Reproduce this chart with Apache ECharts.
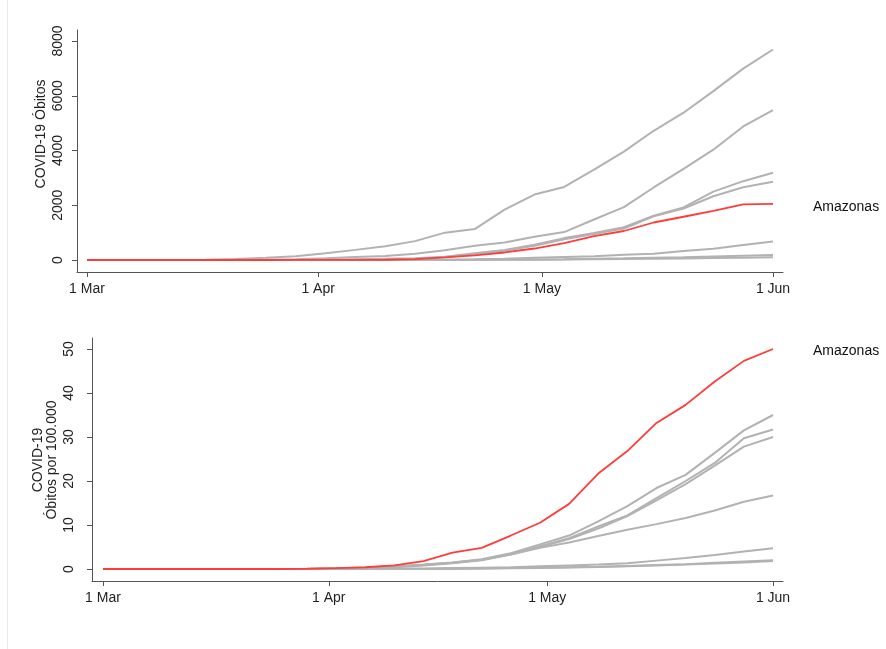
<!DOCTYPE html>
<html>
<head>
<meta charset="utf-8">
<script src="https://cdn.jsdelivr.net/npm/echarts@6/dist/echarts.min.js"></script>
<style>
  html, body { margin: 0; background: #fff; }
  #main { width: 886px; height: 649px; }
</style>
</head>
<body>
<div id="main"></div>
<script>
// datas (2020)
var dates = ['2020-03-01', '2020-03-10', '2020-03-17', '2020-03-21', '2020-03-25', '2020-03-29',
  '2020-04-02', '2020-04-06', '2020-04-10', '2020-04-14', '2020-04-18', '2020-04-22', '2020-04-26',
  '2020-04-30', '2020-05-04', '2020-05-08', '2020-05-12', '2020-05-16', '2020-05-20', '2020-05-24',
  '2020-05-28', '2020-06-01'];
var months = ['Jan', 'Feb', 'Mar', 'Apr', 'May', 'Jun', 'Jul', 'Aug', 'Sep', 'Oct', 'Nov', 'Dec'];

// óbitos acumulados (painel de cima)
var obitosA = [0, 0, 5, 40, 80, 140, 250, 370, 500, 690, 1000, 1130, 1840, 2390, 2670, 3300, 3960, 4720, 5380, 6170, 6990, 7690];
var obitosB = [0, 0, 0, 5, 15, 30, 60, 110, 150, 225, 360, 520, 640, 850, 1020, 1480, 1930, 2650, 3330, 4030, 4880, 5475];
var obitosC = [0, 0, 0, 0, 2, 5, 15, 30, 45, 60, 120, 250, 370, 560, 800, 990, 1200, 1620, 1920, 2500, 2880, 3190];
var obitosD = [0, 0, 0, 0, 0, 1, 3, 10, 20, 40, 100, 220, 340, 520, 760, 950, 1150, 1600, 1880, 2330, 2660, 2860];
var obitosE = [0, 0, 0, 0, 0, 0, 1, 2, 4, 6, 10, 25, 50, 80, 110, 140, 190, 230, 330, 410, 550, 680];
var obitosF = [0, 0, 0, 0, 0, 0, 0, 1, 2, 3, 5, 10, 15, 20, 30, 45, 60, 80, 100, 130, 160, 185];
var obitosG = [0, 0, 0, 0, 0, 0, 0, 0, 1, 2, 3, 5, 8, 10, 15, 25, 35, 45, 55, 70, 85, 105];
var obitosAM = [0, 0, 0, 0, 1, 3, 5, 8, 10, 30, 95, 170, 275, 420, 620, 870, 1060, 1370, 1580, 1795, 2030, 2050];

// óbitos por 100.000 (painel de baixo)
var taxaA = [0, 0, 0, 0, 0, 0, 0.1, 0.3, 0.6, 1.0, 1.5, 2.2, 3.6, 5.6, 7.6, 10.8, 14.3, 18.4, 21.4, 26.4, 31.5, 35];
var taxaB = [0, 0, 0, 0, 0, 0, 0.1, 0.2, 0.5, 0.9, 1.4, 2.1, 3.4, 5.2, 7.0, 9.7, 12.2, 16.1, 20, 24.1, 29.7, 31.7];
var taxaC = [0, 0, 0, 0, 0, 0, 0.1, 0.2, 0.4, 0.8, 1.3, 2.0, 3.3, 5.0, 6.8, 9.2, 12.0, 15.6, 19.3, 23.5, 27.8, 30];
var taxaD = [0, 0, 0, 0, 0, 0, 0.1, 0.2, 0.5, 0.9, 1.4, 2.1, 3.3, 4.8, 6.0, 7.5, 8.9, 10.2, 11.6, 13.3, 15.3, 16.7];
var taxaE = [0, 0, 0, 0, 0, 0, 0, 0, 0.1, 0.1, 0.2, 0.3, 0.4, 0.6, 0.8, 1.0, 1.3, 1.9, 2.5, 3.2, 4.0, 4.7];
var taxaF = [0, 0, 0, 0, 0, 0, 0, 0, 0, 0, 0.1, 0.1, 0.2, 0.3, 0.4, 0.5, 0.7, 0.9, 1.1, 1.4, 1.7, 2.0];
var taxaG = [0, 0, 0, 0, 0, 0, 0, 0, 0, 0, 0, 0.1, 0.15, 0.25, 0.35, 0.45, 0.6, 0.8, 1.0, 1.25, 1.5, 1.8];
var taxaAM = [0, 0, 0, 0, 0, 0.05, 0.2, 0.4, 0.8, 1.8, 3.7, 4.8, 7.6, 10.5, 14.8, 21.7, 26.8, 33.2, 37.3, 42.6, 47.3, 50];

var yTicksTop = [0, 2000, 4000, 6000, 8000];
var yTicksBottom = [0, 10, 20, 30, 40, 50];
var xTickDates = ['2020-03-01', '2020-04-01', '2020-05-01', '2020-06-01'];

function ts(s) {
    var p = s.split('-')
    return Date.UTC(+p[0], +p[1] - 1, +p[2])
}
var DAY = 86400000;
var xTicks = xTickDates.map(ts);

function pairs(vals) {
    return vals.map(function (v, i) { return [ts(dates[i]), v] })
}

var gray = '#b2b2b2';
var red = '#ff3c3c';
var font = 'Liberation Sans, Arial, sans-serif';

function grayLine(name, vals, idx) {
    return {
        name: name, type: 'line', xAxisIndex: idx, yAxisIndex: idx,
        data: pairs(vals), showSymbol: false, silent: true,
        lineStyle: { color: gray, width: 2 }
    }
}
function redLine(vals, idx, dy) {
    return {
        name: 'Amazonas', type: 'line', xAxisIndex: idx, yAxisIndex: idx,
        data: pairs(vals), showSymbol: false, silent: true, z: 5,
        lineStyle: { color: red, width: 1.8 },
        endLabel: {
            show: true, formatter: '{a}', distance: 40, offset: [0, dy],
            color: '#111', fontSize: 14, fontFamily: font
        }
    }
}

// eixo x numérico em milissegundos, rótulos só no dia 1 de cada mês
function xAxis(idx, padL, padR) {
    return {
        type: 'value', gridIndex: idx,
        min: ts('2020-03-01') - padL * DAY,
        max: ts('2020-06-01') + padR * DAY,
        splitLine: { show: false },
        axisLine: { onZero: false, lineStyle: { color: '#555', width: 1 } },
        axisTick: { customValues: xTicks, length: 5, lineStyle: { color: '#555' } },
        axisLabel: {
            customValues: xTicks, margin: 10, color: '#222', fontSize: 14, fontFamily: font,
            formatter: function (v) {
                var d = new Date(v)
                return d.getUTCDate() + ' ' + months[d.getUTCMonth()]
            }
        }
    }
}
function yAxis(idx, min, max, ticks, margin) {
    return {
        type: 'value', gridIndex: idx, min: min, max: max,
        splitLine: { show: false },
        axisLine: { show: true, lineStyle: { color: '#555', width: 1 } },
        axisTick: { show: true, customValues: ticks, length: 5, lineStyle: { color: '#555' } },
        axisLabel: {
            customValues: ticks, rotate: 90, margin: margin,
            color: '#222', fontSize: 14, fontFamily: font,
            formatter: function (v) { return String(v) }
        }
    }
}

var myChart = echarts.init(document.getElementById('main'));
var option = {
    backgroundColor: '#fff',
    animation: false,
    grid: [
        { left: 77, top: 30, width: 706, height: 242 },
        { left: 92, top: 338, width: 691, height: 243 }
    ],
    xAxis: [xAxis(0, 1.34, 1.34), xAxis(1, 1.51, 1.37)],
    yAxis: [
        yAxis(0, -438, 8402, yTicksTop, 12),
        yAxis(1, -2.73, 52.5, yTicksBottom, 16)
    ],
    graphic: [
        { type: 'line', shape: { x1: 7.5, y1: 0, x2: 7.5, y2: 649 }, style: { stroke: '#e9e9e9', lineWidth: 1 } },
        {
            type: 'text', x: 41, y: 134, rotation: Math.PI / 2,
            style: { text: 'COVID-19 Óbitos', font: '14px ' + font, fill: '#222', align: 'center', verticalAlign: 'middle' }
        },
        {
            type: 'text', x: 45, y: 460, rotation: Math.PI / 2,
            style: {
                text: 'COVID-19\nÓbitos por 100.000', font: '14px ' + font, fill: '#222',
                align: 'center', verticalAlign: 'middle', lineHeight: 14
            }
        }
    ],
    series: [
        grayLine('A', obitosA, 0), grayLine('B', obitosB, 0), grayLine('C', obitosC, 0),
        grayLine('D', obitosD, 0), grayLine('E', obitosE, 0), grayLine('F', obitosF, 0),
        grayLine('G', obitosG, 0), redLine(obitosAM, 0, 3),
        grayLine('A', taxaA, 1), grayLine('B', taxaB, 1), grayLine('C', taxaC, 1),
        grayLine('D', taxaD, 1), grayLine('E', taxaE, 1), grayLine('F', taxaF, 1),
        grayLine('G', taxaG, 1), redLine(taxaAM, 1, 2)
    ]
};
myChart.setOption(option);
</script>
</body>
</html>
